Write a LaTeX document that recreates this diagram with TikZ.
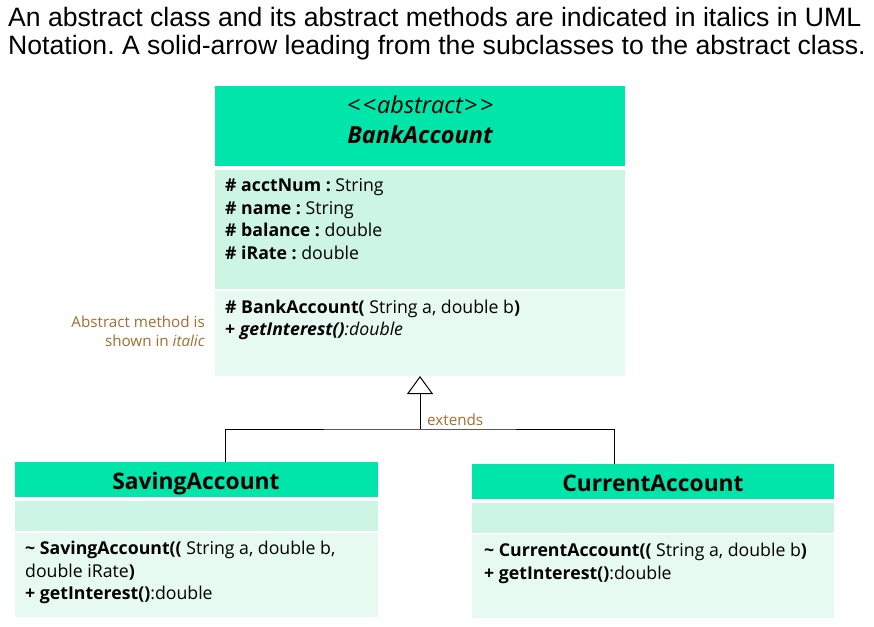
\documentclass[tikz,border=0pt]{standalone}
\usepackage{fontspec}
\setmainfont{Liberation Sans}
\newfontfamily\seg{Open Sans}
\usetikzlibrary{arrows.meta}
\definecolor{hdr}{HTML}{00E5A9}
\definecolor{attr}{HTML}{CCF5E4}
\definecolor{meth}{HTML}{E6FAF2}
\definecolor{note}{HTML}{A06E30}
\frenchspacing
\begin{document}
\begin{tikzpicture}[x=1pt,y=-1pt,
  hdrbox/.style={fill=hdr,draw=none,inner sep=0},
  attrbox/.style={fill=attr,draw=none,inner sep=0},
  methbox/.style={fill=meth,draw=none,inner sep=0},
  txt/.style={inner sep=0,anchor=base west,font=\seg\fontsize{17.7}{22}\selectfont},
  ctitle/.style={inner sep=0,anchor=base,font=\seg\bfseries\fontsize{22.8}{26}\selectfont},
  ttl/.style={inner sep=0,anchor=base west,font=\fontsize{26.6}{30}\selectfont},
  notetxt/.style={inner sep=0,text=note,font=\seg\fontsize{15.2}{20}\selectfont},
  link/.style={draw=black,line width=1pt}]
\useasboundingbox (0,0) rectangle (874,626);
% title
\node[ttl] (t1) at (8,27) {An abstract class and its abstract methods are indicated in italics in UML};
\node[ttl] (t2) at (8,55) {Notation. A solid-arrow leading from the subclasses to the abstract class.};
% BankAccount
\path[hdrbox] (215,86) rectangle (625,166);
\path[attrbox] (215,170) rectangle (625,289);
\path[methbox] (215,291) rectangle (625,376);
\coordinate (babot) at (420,376);
\node[inner sep=0,anchor=base,font=\seg\itshape\fontsize{23.5}{26}\selectfont] (st) at (420,113) {<\kern2.5pt<\kern1pt abstract\kern1pt>\kern2.5pt>};
\node[ctitle,font=\seg\bfseries\itshape\fontsize{23.5}{26}\selectfont] (ba) at (420,143) {BankAccount};
\node[txt] (a1) at (225,191) {\textbf{\# acctNum :} String};
\node[txt] (a2) at (225,214) {\textbf{\# name :} String};
\node[txt] (a3) at (225,236) {\textbf{\# balance :} double};
\node[txt] (a4) at (225,259) {\textbf{\# iRate :} double};
\node[txt] (m1) at (225,313) {\textbf{\# BankAccount(} String a, double b\textbf{)}};
\node[txt] (m2) at (225,335) {\textbf{+ \textit{getInterest()}}\textit{:double}};
% note
\node[notetxt,anchor=base east] (n1) at (205,327) {Abstract method is};
\node[notetxt,anchor=base east] (n2) at (205,346) {shown in \textit{italic}};
% SavingAccount
\path[hdrbox] (15,462) rectangle (378,497);
\path[attrbox] (15,501) rectangle (378,531);
\path[methbox] (15,533) rectangle (378,617);
\coordinate (satop) at (225,462);
\node[ctitle] (sa) at (196,489) {SavingAccount};
\node[txt] (s1) at (25,554) {\textbf{\textasciitilde{} SavingAccount((} String a, double b,};
\node[txt] (s2) at (25,577) {double iRate\textbf{)}};
\node[txt] (s3) at (25,599) {\textbf{+ getInterest()}:double};
% CurrentAccount
\path[hdrbox] (472,464) rectangle (834,499);
\path[attrbox] (472,503) rectangle (834,533);
\path[methbox] (472,535) rectangle (834,618);
\coordinate (catop) at (614,464);
\node[ctitle] (ca) at (653,491) {CurrentAccount};
\node[txt] (c1) at (484,556) {\textbf{\textasciitilde{} CurrentAccount((} String a, double b\textbf{)}};
\node[txt] (c2) at (484,579) {\textbf{+ getInterest()}:double};
% connectors
\coordinate (j) at (420,429);
\draw[link] (satop) |- (j) -| (catop);
\draw[link,-{Triangle[open,length=18pt,width=26pt,line width=1pt]}] (j) -- (babot);
\node[notetxt,anchor=base west] (ext) at (427,425) {extends};
\end{tikzpicture}
\end{document}
